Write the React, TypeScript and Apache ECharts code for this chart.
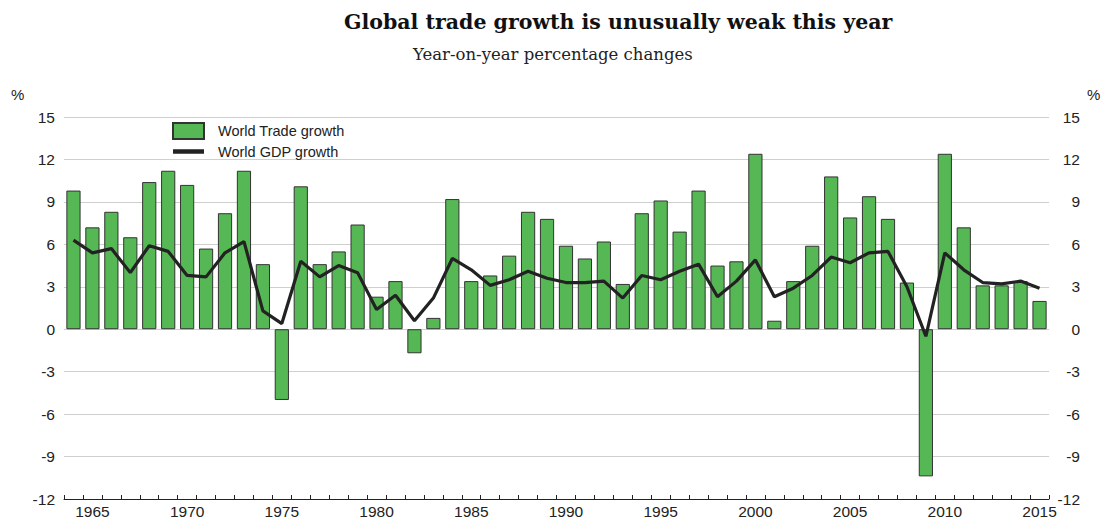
import React, { useEffect, useRef } from "react";
import * as echarts from "echarts";

const years: string[] = [];
for (let y = 1964; y <= 2015; y++) years.push(String(y));

const tradeGrowth = [
  9.8, 7.2, 8.3, 6.5, 10.4, 11.2, 10.2, 5.7, 8.2, 11.2,
  4.6, -5.0, 10.1, 4.6, 5.5, 7.4, 2.3, 3.4, -1.7, 0.8,
  9.2, 3.4, 3.8, 5.2, 8.3, 7.8, 5.9, 5.0, 6.2, 3.2,
  8.2, 9.1, 6.9, 9.8, 4.5, 4.8, 12.4, 0.6, 3.4, 5.9,
  10.8, 7.9, 9.4, 7.8, 3.3, -10.4, 12.4, 7.2, 3.1, 3.1,
  3.4, 2.0,
];

const gdpGrowth = [
  6.3, 5.4, 5.7, 4.0, 5.9, 5.5, 3.8, 3.7, 5.4, 6.2,
  1.3, 0.4, 4.8, 3.7, 4.5, 4.0, 1.4, 2.4, 0.6, 2.2,
  5.0, 4.2, 3.1, 3.5, 4.1, 3.6, 3.3, 3.3, 3.4, 2.2,
  3.8, 3.5, 4.1, 4.6, 2.3, 3.4, 4.9, 2.3, 2.9, 3.8,
  5.1, 4.7, 5.4, 5.5, 3.0, -0.5, 5.4, 4.2, 3.3, 3.2,
  3.4, 2.9,
];

const yTicks = { min: -12, max: 15, interval: 3 };

const TITLE = "Global trade growth is unusually weak this year";
const SUBTITLE = "Year-on-year percentage changes";
const TRADE_NAME = "World Trade growth";
const GDP_NAME = "World GDP growth";

export default function App() {
  const ref = useRef<HTMLDivElement>(null);
  useEffect(() => {
    document.body.style.margin = "0";
    const chart = echarts.init(ref.current!, null, { renderer: "svg" });
    const labelStyle = {
      color: "#222",
      fontSize: 15.5,
      fontFamily: "Liberation Sans, Arial, sans-serif",
    };
    chart.setOption({
      animation: false,
      backgroundColor: "#fff",
      title: [
        {
          text: TITLE,
          left: 344,
          top: 11,
          padding: 0,
          textStyle: {
            fontFamily: "DejaVu Serif",
            fontWeight: "bold",
            fontSize: 20.5,
            color: "#111",
          },
        },
        {
          text: SUBTITLE,
          left: 413,
          top: 46,
          padding: 0,
          textStyle: {
            fontFamily: "DejaVu Serif",
            fontWeight: "normal",
            fontSize: 16.5,
            color: "#222",
          },
        },
      ],
      graphic: [
        {
          type: "text",
          left: 11,
          top: 87,
          style: { text: "%", fontSize: 15, fill: "#222", fontFamily: "Liberation Sans" },
        },
        {
          type: "text",
          left: 1087,
          top: 87,
          style: { text: "%", fontSize: 15, fill: "#222", fontFamily: "Liberation Sans" },
        },
      ],
      legend: {
        orient: "vertical",
        left: 172,
        top: 122,
        padding: 0,
        itemWidth: 31,
        itemHeight: 16,
        itemGap: 4,
        textStyle: {
          fontSize: 14.5,
          color: "#222",
          fontFamily: "Liberation Sans, Arial, sans-serif",
          padding: [0, 0, 0, 9],
        },
        data: [
          { name: TRADE_NAME, icon: "rect" },
          { name: GDP_NAME, icon: "path://M0,0h31v4.5h-31z" },
        ],
      },
      grid: {
        left: 64,
        right: 60,
        top: 117,
        bottom: 22,
        containLabel: false,
        outerBoundsMode: "none",
      },
      xAxis: {
        type: "category",
        data: years,
        boundaryGap: true,
        axisLine: { onZero: false, lineStyle: { color: "#222", width: 1 } },
        axisTick: {
          show: true,
          inside: true,
          length: 4,
          interval: 0,
          alignWithLabel: false,
          lineStyle: { color: "#222" },
        },
        axisLabel: {
          ...labelStyle,
          margin: 4,
          interval: (i: number, v: string) => Number(v) % 5 === 0,
        },
        splitLine: { show: false },
      },
      yAxis: [
        {
          type: "value",
          position: "left",
          ...yTicks,
          axisLine: { show: false },
          axisTick: { show: false },
          axisLabel: { ...labelStyle, margin: 9 },
          splitLine: { show: true, lineStyle: { color: "#cfcfcf", width: 1 } },
        },
        {
          type: "value",
          position: "right",
          ...yTicks,
          axisLine: { show: false },
          axisTick: { show: false },
          axisLabel: { ...labelStyle, margin: 31, align: "right" },
          splitLine: { show: false },
        },
      ],
      series: [
        {
          name: TRADE_NAME,
          type: "bar",
          data: tradeGrowth,
          yAxisIndex: 0,
          barCategoryGap: "25%",
          itemStyle: { color: "#55b855", borderColor: "#333", borderWidth: 1 },
        },
        {
          name: GDP_NAME,
          type: "line",
          data: gdpGrowth,
          yAxisIndex: 0,
          showSymbol: false,
          symbol: "none",
          lineStyle: { color: "#222", width: 3.2 },
          itemStyle: { color: "#222" },
          z: 5,
        },
      ],
    });
    return () => chart.dispose();
  }, []);
  return <div ref={ref} style={{ width: 1109, height: 521 }} />;
}
